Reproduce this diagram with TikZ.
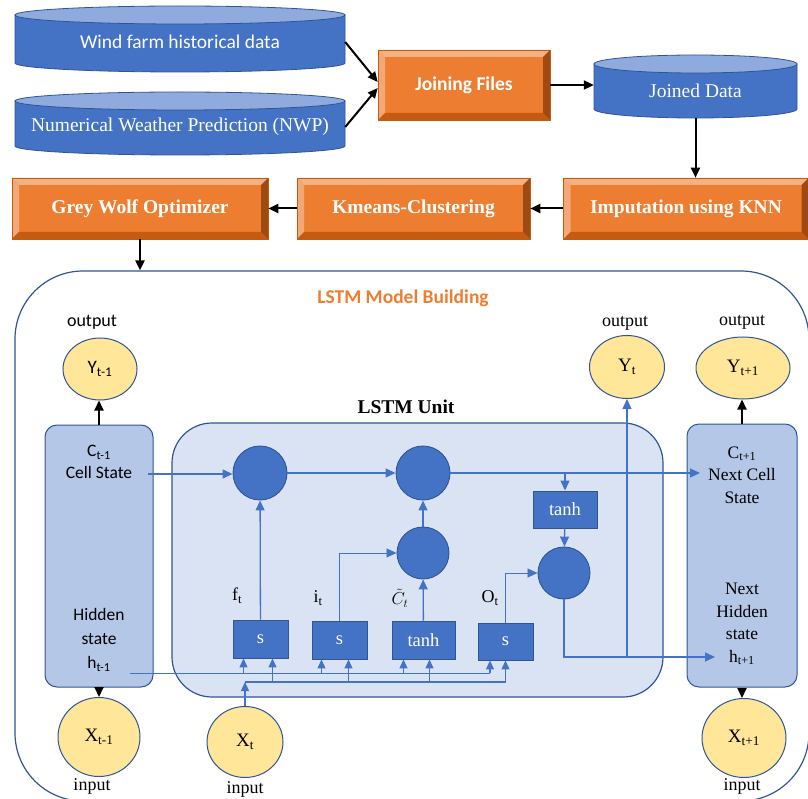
\documentclass[tikz,border=0pt]{standalone}
\usepackage{fontspec}
\setmainfont{Liberation Serif}
\newfontfamily\calib{Carlito}
\usetikzlibrary{arrows.meta,shapes.geometric,calc}

\definecolor{cylblue}{HTML}{4472C4}
\definecolor{cyltop}{HTML}{8FAADC}
\definecolor{navy}{HTML}{2F5597}
\definecolor{orng}{HTML}{ED7D31}
\definecolor{ornglt}{HTML}{F4B183}
\definecolor{orngdk}{HTML}{C55A11}
\definecolor{orngdkr}{HTML}{9E4A12}
\definecolor{cellfill}{HTML}{B4C7E7}
\definecolor{unitfill}{HTML}{DAE3F3}
\definecolor{yel}{HTML}{FFE699}

\newcommand\setfs[2]{\fontsize{#1}{#2}\selectfont}
\newcommand\dbdrum[4]{%
  \pgfmathsetmacro\drumrx{(#2-#1)/2}
  \filldraw[fill=cylblue,draw=navy,line width=0.8pt] (#1,#3) -- (#1,#4)
    arc[start angle=180,end angle=360,x radius=\drumrx pt,y radius=9pt] -- (#2,#3) -- cycle;
  \filldraw[fill=cyltop,draw=navy,line width=0.8pt] ({(#1+#2)/2},#3)
    ellipse[x radius=\drumrx pt,y radius=9pt];
}

\begin{document}
\begin{tikzpicture}[x=1pt,y=-1pt,
    dbtext/.style={inner sep=0pt,text=white},
    bevelbox/.style={draw=orngdk,fill=orng,text=white,minimum height=61pt,line width=0.6pt,
      font=\bfseries\setfs{19.5}{22},
      path picture={
        \def\ppbb{path picture bounding box}
        \fill[ornglt] (\ppbb.north west) -- (\ppbb.north east) -- ([shift={(-7pt,-7pt)}]\ppbb.north east) -- ([shift={(7pt,-7pt)}]\ppbb.north west) -- cycle;
        \fill[ornglt!85!orng] (\ppbb.north west) -- (\ppbb.south west) -- ([shift={(7pt,7pt)}]\ppbb.south west) -- ([shift={(7pt,-7pt)}]\ppbb.north west) -- cycle;
        \fill[orngdk] (\ppbb.south west) -- (\ppbb.south east) -- ([shift={(-7pt,7pt)}]\ppbb.south east) -- ([shift={(7pt,7pt)}]\ppbb.south west) -- cycle;
        \fill[orngdkr] (\ppbb.north east) -- (\ppbb.south east) -- ([shift={(-7pt,7pt)}]\ppbb.south east) -- ([shift={(-7pt,-7pt)}]\ppbb.north east) -- cycle;
      }},
    memcell/.style={draw=navy,fill=cellfill,rounded corners=12pt,line width=1pt},
    token/.style={ellipse,draw=navy,fill=yel,line width=1pt,inner sep=0pt},
    gatebox/.style={draw=navy,fill=cylblue,text=white,minimum width=55pt,minimum height=38pt,
      line width=0.9pt,font=\setfs{18.5}{22}},
    mult/.style={circle,draw=navy,fill=cylblue,minimum size=54pt,line width=0.9pt},
    lbl/.style={inner sep=0pt,font=\setfs{18}{22}},
    celltext/.style={inner sep=0pt,align=center,font=\setfs{17.5}{22.5}},
    flow/.style={cylblue,line width=1.3pt,-{Triangle[width=9pt,length=10pt]}},
    thinflow/.style={flow,line width=0.8pt},
    busflow/.style={cylblue,line width=1.2pt,-{Triangle[width=8pt,length=9pt]}},
    pipe/.style={black,line width=2pt,-{Triangle[width=9pt,length=10pt]}}]
\useasboundingbox (0,0) rectangle (808,799);

\dbdrum{15}{345}{15}{63}
\dbdrum{15}{345}{101}{146}
\dbdrum{594}{797}{64}{109}
\node[dbtext,font=\calib\setfs{19.5}{23},minimum width=330pt,minimum height=50pt] (wind) at (180,42) {Wind farm historical data};
\node[dbtext,font=\setfs{19.5}{23},minimum width=330pt,minimum height=50pt] (nwp) at (180,127) {Numerical Weather Prediction (NWP)};
\node[dbtext,font=\setfs{19.5}{23},minimum width=203pt,minimum height=54pt] (joined) at (695.5,91) {Joined Data};

\node[bevelbox,font=\calib\bfseries\setfs{19.5}{22},minimum width=172pt,minimum height=70pt] (join) at (464,85) {Joining Files};
\node[bevelbox,minimum width=245pt] (imput) at (686,208.5) {Imputation using KNN};
\node[bevelbox,minimum width=233pt] (kmeans) at (413.5,208.5) {Kmeans-Clustering};
\node[bevelbox,minimum width=256pt] (gwo) at (140,208.5) {Grey Wolf Optimizer};

\draw[pipe] (wind.east) -- ([yshift=3pt]join.west);
\draw[pipe] (nwp.east) -- ([yshift=-3pt]join.west);
\draw[pipe] (join.east) -- (join.east -| joined.west);
\draw[pipe] (joined.south) -- (joined.south |- imput.north);
\draw[pipe] (imput.west) -- (kmeans.east);
\draw[pipe] (kmeans.west) -- (gwo.east);

\node[draw=navy,line width=1.2pt,rounded corners=68pt,minimum width=794pt,minimum height=530pt] (model) at (412,536) {};
\draw[pipe] (gwo.south) -- (gwo.south |- model.north);
\node[font=\calib\bfseries\setfs{19.5}{22},text=orng] (modeltitle) at (403,298) {LSTM Model Building};

\node[draw=navy,fill=unitfill,line width=1.2pt,rounded corners=40pt,minimum width=491pt,minimum height=274pt] (unit) at (417.5,560) {};
\node[font=\bfseries\setfs{19.5}{22}] (unittitle) at (406,407) {LSTM Unit};

\node[memcell,minimum width=108pt,minimum height=262pt] (prevcell) at (99,556) {};
\node[memcell,minimum width=110pt,minimum height=263pt] (nextcell) at (742,555.5) {};
\node[celltext,font=\calib\setfs{17.5}{22}] (prevctext) at (99,462) {C\textsubscript{t-1}\\Cell State};
\node[celltext,font=\calib\setfs{17.5}{24}] (prevhtext) at (99,640) {Hidden\\state\\h\textsubscript{t-1}};
\node[celltext] (nextctext) at (742,475) {C\textsubscript{t+1}\\Next Cell\\State};
\node[celltext] (nexthtext) at (742,624) {Next\\Hidden\\state\\h\textsubscript{t+1}};

\node[token,minimum width=74pt,minimum height=62pt,font=\calib\setfs{19}{22}] (yprev) at (100,369) {Y\textsubscript{t-1}};
\node[token,minimum width=75pt,minimum height=63pt,font=\setfs{19}{22}] (yt) at (627,367) {Y\textsubscript{t}};
\node[token,minimum width=94pt,minimum height=62pt,font=\setfs{19}{22}] (ynext) at (743,368) {Y\textsubscript{t+1}};
\node[token,minimum width=82pt,minimum height=79pt,font=\setfs{19}{22}] (xprev) at (99,737) {X\textsubscript{t-1}};
\node[token,minimum width=76pt,minimum height=71pt,font=\setfs{19}{22}] (xt) at (245,742) {X\textsubscript{t}};
\node[token,minimum width=84pt,minimum height=79pt,font=\setfs{19}{22}] (xnext) at (744,738) {X\textsubscript{t+1}};

\node[lbl,font=\calib\setfs{18}{22}] (outprev) at (92,322) {output};
\node[lbl] (outt) at (625,323) {output};
\node[lbl] (outnext) at (742,322) {output};
\node[lbl] (inprev) at (92,786) {input};
\node[lbl] (int) at (245,789) {input};
\node[lbl] (innext) at (742,786) {input};

\draw[pipe] (prevcell.north) -- (prevcell.north |- yprev.south);
\draw[pipe] (prevcell.south) -- (prevcell.south |- xprev.north);
\draw[pipe] (nextcell.north) -- (nextcell.north |- ynext.south);
\draw[pipe] (nextcell.south) -- (nextcell.south |- xnext.north);

\node[mult] (fmul) at (260,473) {};
\node[mult] (amul) at (423,473) {};
\node[mult,minimum size=52pt] (imul) at (423,553) {};
\node[mult,minimum size=52pt] (omul) at (564,573) {};
\node[gatebox,minimum width=64pt,minimum height=37pt] (tanhc) at (565,509.5) {tanh};
\node[gatebox] (fgate) at (260.5,639) {s};
\node[gatebox] (igate) at (339.5,640) {s};
\node[gatebox,minimum width=63pt] (cgate) at (423.5,640) {tanh};
\node[gatebox,minimum height=37pt] (ogate) at (505.5,641.5) {s};

\node[lbl] (flbl) at (237,596) {f\textsubscript{t}};
\node[lbl] (ilbl) at (318,598) {i\textsubscript{t}};
\node[lbl] (clbl) at (400,598) {$\tilde{C}_t$};
\node[lbl] (olbl) at (490,598) {O\textsubscript{t}};

\coordinate (cin) at (148,474);
\coordinate (cout) at (700,474);
\coordinate (hout) at (715,657);
\draw[flow] (cin) -- (cin -| fmul.west);
\draw[flow] (fmul) -- (amul);
\draw[flow] (amul.east) -- (amul.east -| cout);
\draw[flow] (tanhc.north |- amul) -- (tanhc.north);
\draw[flow] (tanhc) -- (omul);
\draw[flow] (fgate) -- (fmul);
\draw[thinflow] (igate.north) |- (imul.west);
\draw[flow] (cgate) -- (imul);
\draw[flow] (imul) -- (amul);
\draw[thinflow] (ogate.north) |- (omul.west);
\draw[flow] (omul.south) |- (hout);
\draw[flow] (yt.south |- hout) -- (yt.south);

\coordinate (hbusL) at (130,673);
\coordinate (hbusR) at (490,673);
\coordinate (xbusR) at (505.5,682);
\draw[cylblue,line width=0.9pt] (hbusL) -- (hbusR);
\draw[busflow] (xt.north) -- (xt.north |- xbusR);
\draw[cylblue,line width=1.2pt] (xt.north |- xbusR) -- (xbusR);
\foreach \g/\hoff/\xoff in {fgate/-17/12,igate/-18/9,cgate/-20/6,ogate/-15.5/0}{
  \coordinate (gl) at ([xshift=\hoff pt]\g.south);
  \coordinate (gr) at ([xshift=\xoff pt]\g.south);
  \draw[busflow] (gl |- hbusL) -- (gl);
  \draw[busflow] (gr |- xbusR) -- (gr);
}
\end{tikzpicture}
\end{document}
